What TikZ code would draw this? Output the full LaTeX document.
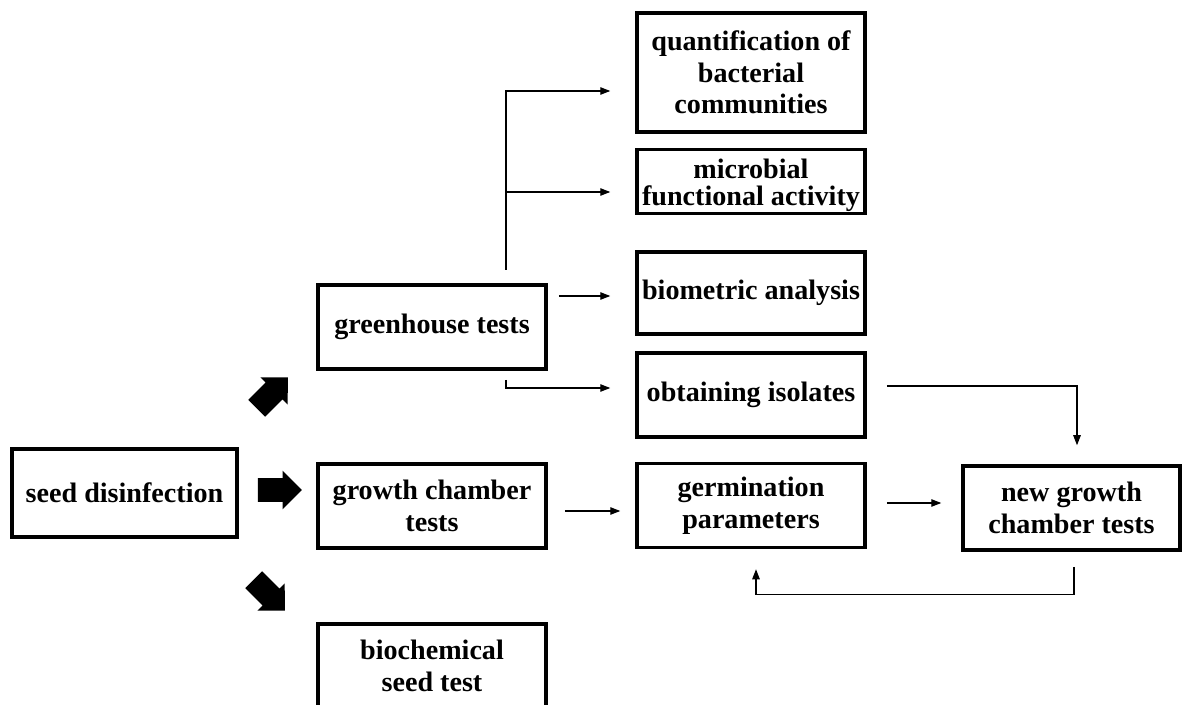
\documentclass[tikz,border=0pt]{standalone}
\usepackage{fontspec}
\setmainfont{Liberation Serif}
\usepackage{tikz}
\usetikzlibrary{arrows.meta,shapes}

\begin{document}
\begin{tikzpicture}[>={Triangle[length=2mm,width=1.5mm]}]
    \tikzstyle{stage}=[draw, rectangle, line width=2pt, minimum width=4.56cm, minimum height=1.68cm, align=center, inner sep=2pt, font=\fontsize{16}{18}\selectfont\bfseries]
    \tikzstyle{bigarrow}=[single arrow, fill=black, draw=none, inner sep=0.23cm, minimum height=0.88cm, single arrow head extend=0.15cm]
    \tikzstyle{link}=[->, line width=0.6pt]

    \useasboundingbox (0,0) rectangle (23.64,14.08);

    \node[stage, minimum width=4.5cm, minimum height=1.76cm] (seed) at (2.49,4.22) {seed disinfection};

    \node[stage] (gh)   at (8.64,7.54) {greenhouse tests};
    \node[stage] (gc)   at (8.64,3.96) {growth chamber\\tests};
    \node[stage] (bcst) at (8.64,0.76) {biochemical\\seed test};

    \node[stage, minimum height=2.38cm] (quant) at (15.02,12.63) {quantification of\\bacterial\\communities};
    \node[stage, minimum height=1.28cm, inner sep=0pt, text height=27.5pt, text depth=0pt, font=\fontsize{16}{15.5}\selectfont\bfseries] (mfa) at (15.02,10.45) {microbial\\functional activity};
    \node[stage, minimum height=1.64cm] (bio)   at (15.02,8.22)  {biometric analysis};
    \node[stage] (iso)   at (15.02,6.18) {obtaining isolates};
    \node[stage] (germ)  at (15.02,3.97) {germination\\parameters};
    \node[stage, minimum width=4.34cm] (new) at (21.43,3.92) {new growth\\chamber tests};

    % block arrows out of the disinfection step
    \node[bigarrow, rotate=45]  (up)  at (5.36,6.14) {};
    \node[bigarrow]             (mid) at (5.48,4.28) {};
    \node[bigarrow, rotate=-45] (dn)  at (5.30,2.26) {};

    % greenhouse branches
    \coordinate (ghtop) at (10.12,8.68);
    \coordinate (ghbot) at (10.12,6.48);
    \coordinate (quantin) at ([xshift=-5mm,yshift=-3.7mm]quant.west);
    \coordinate (mfain)   at ([xshift=-5mm,yshift=-2.1mm]mfa.west);
    \coordinate (bioin)   at ([xshift=-5mm,yshift=-0.6mm]bio.west);
    \coordinate (isoin)   at ([xshift=-5mm,yshift=1.4mm]iso.west);

    \draw[link] (ghtop) |- (quantin);
    \draw[link] (ghtop |- mfain) -- (mfain);
    \draw[link] ([xshift=2.2mm]gh.east |- bioin) -- (bioin);
    \draw[link] (ghbot) |- (isoin);

    % growth chamber line
    \coordinate (germin) at ([xshift=-3mm,yshift=-1.1mm]germ.west);
    \coordinate (newin)  at ([xshift=-4mm,yshift=1mm]new.west);
    \draw[link] ([xshift=3.4mm]gc.east |- germin) -- (germin);
    \draw[link] ([xshift=4mm]germ.east |- newin) -- (newin);
    \draw[link] ([xshift=4mm,yshift=1.8mm]iso.east) -| ([xshift=1.1mm,yshift=3.8mm]new.north);
    \draw[link] ([xshift=0.5mm,yshift=-3mm]new.south) -- ++(0,-0.56) -| ([xshift=1mm,yshift=-4mm]germ.south);
\end{tikzpicture}
\end{document}
